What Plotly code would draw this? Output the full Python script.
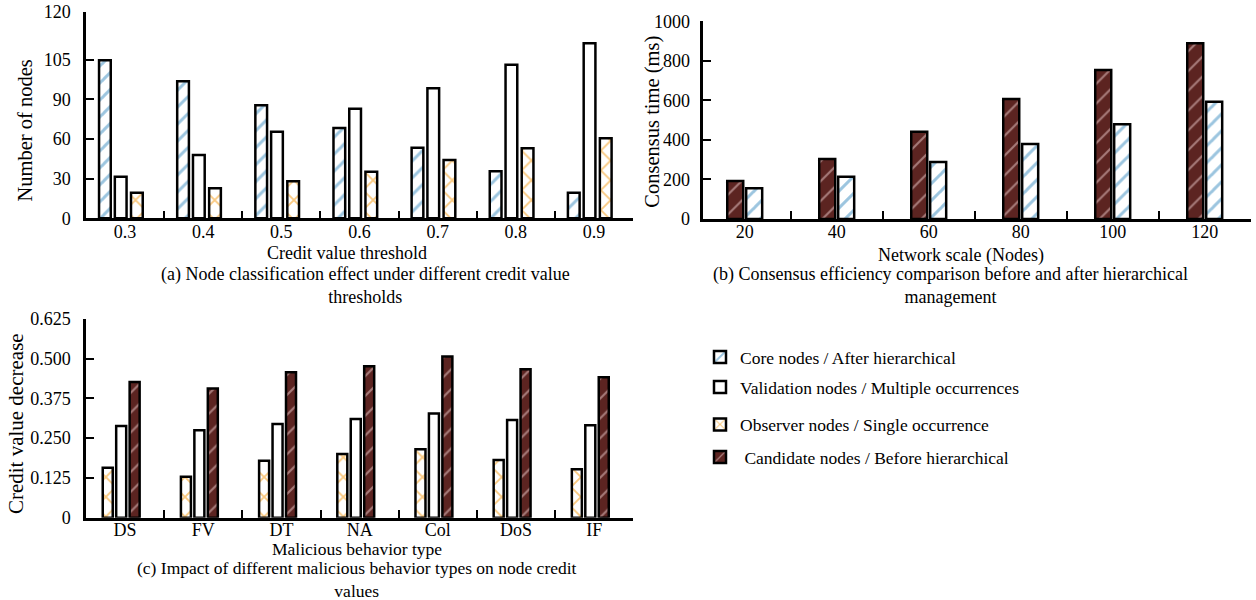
import plotly.graph_objects as go

# (a) node classification under different credit value thresholds
thresholds = ["0.3", "0.4", "0.5", "0.6", "0.7", "0.8", "0.9"]
core_nodes = [119.5, 103.6, 85.5, 68.3, 53.4, 35.5, 19.4]
validation_nodes = [31.5, 47.9, 65.5, 82.9, 98.3, 116.2, 132.4]
observer_nodes = [19.4, 22.7, 28.0, 35.2, 44.1, 52.9, 60.5]
a_tickvals = [0, 30, 60, 90, 120, 156]
a_ticktext = ["0", "30", "60", "90", "105", "120"]

# (b) consensus time before / after hierarchical management
network_scale = ["20", "40", "60", "80", "100", "120"]
time_before = [192, 303, 441, 607, 754, 889]
time_after = [155, 214, 288, 379, 479, 593]
b_tickvals = [0, 200, 400, 600, 800, 1000]

# (c) credit value decrease per malicious behavior type
behaviors = ["DS", "FV", "DT", "NA", "Col", "DoS", "IF"]
drop_single = [0.157, 0.129, 0.179, 0.200, 0.215, 0.181, 0.152]
drop_multiple = [0.288, 0.275, 0.294, 0.310, 0.327, 0.307, 0.290]
drop_candidate = [0.426, 0.406, 0.457, 0.476, 0.506, 0.466, 0.441]
c_tickvals = [0, 0.125, 0.25, 0.375, 0.5, 0.625]
c_ticktext = ["0", "0.125", "0.250", "0.375", "0.500", "0.625"]

SERIF = "Liberation Serif"
MAROON = "#5c2421"
BLUE = "#3a8cc0"
ORANGE = "#f39200"
EDGE = dict(color="black", width=2.5)

core_style = dict(color="white", line=EDGE,
                  pattern=dict(shape="/", fgcolor=BLUE, bgcolor="white",
                               size=12, solidity=0.25, fillmode="overlay"))
valid_style = dict(color="white", line=EDGE)
observer_style = dict(color="white", line=EDGE,
                      pattern=dict(shape="x", fgcolor=ORANGE, bgcolor="white",
                                   size=14, solidity=0.25, fillmode="overlay"))
candidate_style = dict(color=MAROON, line=EDGE,
                       pattern=dict(shape="/", fgcolor="#f0d2d2", bgcolor=MAROON,
                                    size=14, solidity=0.15, fillmode="overlay"))

fig = go.Figure()

# panel (a)
fig.add_bar(x=thresholds, y=core_nodes, marker=core_style, width=0.15, offset=-0.333,
            name="Core nodes / After hierarchical", legend="legend",
            xaxis="x", yaxis="y")
fig.add_bar(x=thresholds, y=validation_nodes, marker=valid_style, width=0.15, offset=-0.131,
            name="Validation nodes / Multiple occurrences", legend="legend2",
            xaxis="x", yaxis="y")
fig.add_bar(x=thresholds, y=observer_nodes, marker=observer_style, width=0.15, offset=0.076,
            name="Observer nodes / Single occurrence", legend="legend3",
            xaxis="x", yaxis="y")

# panel (b)
fig.add_bar(x=network_scale, y=time_before, marker=candidate_style, width=0.174, offset=-0.19,
            name=" Candidate nodes / Before hierarchical", legend="legend4",
            xaxis="x2", yaxis="y2")
fig.add_bar(x=network_scale, y=time_after, marker=core_style, width=0.174, offset=0.016,
            name="After hierarchical", showlegend=False, xaxis="x2", yaxis="y2")

# panel (c)
fig.add_bar(x=behaviors, y=drop_single, marker=observer_style, width=0.128, offset=-0.286,
            name="Single occurrence", showlegend=False, xaxis="x3", yaxis="y3")
fig.add_bar(x=behaviors, y=drop_multiple, marker=valid_style, width=0.128, offset=-0.114,
            name="Multiple occurrences", showlegend=False, xaxis="x3", yaxis="y3")
fig.add_bar(x=behaviors, y=drop_candidate, marker=candidate_style, width=0.128, offset=0.058,
            name="Candidate", showlegend=False, xaxis="x3", yaxis="y3")

tick_font = dict(family=SERIF, size=18, color="black")
axis_common = dict(showline=True, linecolor="black", linewidth=2.5, ticks="inside",
                   ticklen=8, tickwidth=2, tickcolor="black", showgrid=False,
                   zeroline=False, tickfont=tick_font, fixedrange=True,
                   automargin=False)
xcat = dict(axis_common, type="category", tickson="boundaries", ticklabelstandoff=-5)
ylin = dict(axis_common, ticklabelstandoff=9)

W, H = 1256, 600


def px_x(v):
    return v / W


def px_y(v):
    return 1 - v / H


fig.update_layout(
    width=W, height=H, margin=dict(l=0, r=0, t=0, b=0, autoexpand=False),
    paper_bgcolor="white", plot_bgcolor="white",
    barmode="group", font=dict(family=SERIF, size=18, color="black"),
    xaxis=dict(xcat, domain=[px_x(86), px_x(633)], anchor="y", range=[-0.5, 6.5]),
    yaxis=dict(ylin, domain=[px_y(218.3), px_y(12)], anchor="x", range=[0, 156],
               tickvals=a_tickvals, ticktext=a_ticktext),
    xaxis2=dict(xcat, domain=[px_x(703.3), px_x(1250.7)], anchor="y2", range=[-0.45, 5.5]),
    yaxis2=dict(ylin, domain=[px_y(219), px_y(21.3)], anchor="x2", range=[0, 1000],
                tickvals=b_tickvals, ticklabelstandoff=7),
    xaxis3=dict(xcat, domain=[px_x(86), px_x(633.3)], anchor="y3", range=[-0.5, 6.5],
                ticklabelstandoff=-6),
    yaxis3=dict(ylin, domain=[px_y(517.7), px_y(318.7)], anchor="x3", range=[0, 0.625],
                tickvals=c_tickvals, ticktext=c_ticktext),
)

legend_common = dict(xanchor="left", yanchor="middle", bgcolor="rgba(0,0,0,0)",
                     borderwidth=0, font=dict(family=SERIF, size=17.5, color="black"),
                     itemclick=False, itemdoubleclick=False)
fig.update_layout(
    legend=dict(legend_common, x=px_x(700), y=px_y(357)),
    legend2=dict(legend_common, x=px_x(700), y=px_y(387)),
    legend3=dict(legend_common, x=px_x(700), y=px_y(424.5)),
    legend4=dict(legend_common, x=px_x(700), y=px_y(457)),
)

texts = [
    # axis titles
    dict(text="Credit value threshold", x=346.7, y=253, size=18, angle=0),
    dict(text="Network scale (Nodes)", x=960.6, y=255, size=18, angle=0),
    dict(text="Malicious behavior type", x=356.7, y=549, size=17.5, angle=0),
    dict(text="Number of nodes", x=24, y=130.5, size=20.5, angle=-90),
    dict(text="Consensus time (ms)", x=653, y=121.7, size=20.5, angle=-90),
    dict(text="Credit value decrease", x=15.8, y=423.3, size=21, angle=-90),
    # panel captions
    dict(text="(a) Node classification effect under different credit value<br>thresholds",
         x=365, y=285.5, size=18, angle=0),
    dict(text="(b) Consensus efficiency comparison before and after hierarchical<br>management",
         x=950, y=285, size=18, angle=0),
    dict(text="(c) Impact of different malicious behavior types on node credit<br>values",
         x=356.5, y=579.5, size=17.5, angle=0),
]
for t in texts:
    fig.add_annotation(text=t["text"], x=px_x(t["x"]), y=px_y(t["y"]), xref="paper",
                       yref="paper", showarrow=False, xanchor="center", yanchor="middle",
                       textangle=t["angle"], align="center",
                       font=dict(family=SERIF, size=t["size"], color="black"))

# the page body keeps no default margin so the figure fills the window exactly
fig.write_html("out.html",
               post_script="document.body.style.margin='0px';"
                           "document.body.style.overflow='hidden';")
